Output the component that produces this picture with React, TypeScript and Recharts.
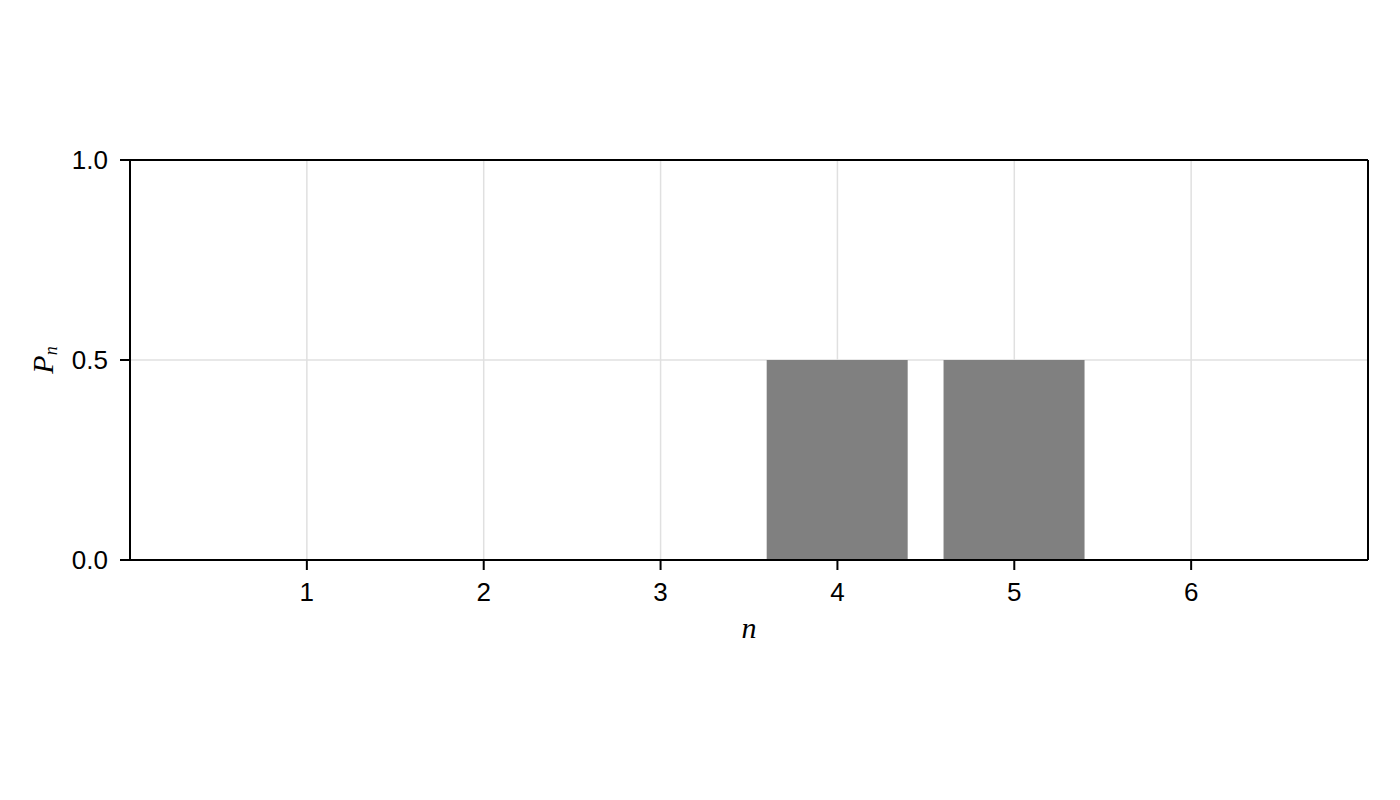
import { BarChart, Bar, XAxis, YAxis, CartesianGrid, ReferenceLine } from "recharts";

const nValues = [1, 2, 3, 4, 5, 6];
const probabilities = [0, 0, 0, 0.5, 0.5, 0];
const xTicks = [1, 2, 3, 4, 5, 6];
const yTicks = [0, 0.5, 1];

const data = nValues.map((n, i) => ({ n, p: probabilities[i] }));

const FONT = "'Liberation Sans', Arial, sans-serif";
const MATH = "'Liberation Serif', 'DejaVu Serif', serif";

const XLabel = ({ viewBox }: any) => {
  const { x, y, width } = viewBox;
  return (
    <text x={x + width / 2} y={y + 78} textAnchor="middle" fontFamily={MATH} fontStyle="italic" fontSize={30} fill="#000">
      n
    </text>
  );
};

const YLabel = ({ viewBox }: any) => {
  const { y, height } = viewBox;
  const cx = 45;
  const cy = y + height / 2;
  return (
    <text
      x={cx}
      y={cy}
      transform={`rotate(-90, ${cx}, ${cy})`}
      textAnchor="middle"
      fontFamily={MATH}
      fontStyle="italic"
      fontSize={30}
      fill="#000"
    >
      P
      <tspan fontSize={18} dy={4}>n</tspan>
    </text>
  );
};

export default function App() {
  return (
    <div style={{ width: 1384, height: 784, background: "#fff" }}>
      <BarChart
        width={1384}
        height={784}
        data={data}
        margin={{ top: 152, right: 24, bottom: 152, left: 42 }}
        barCategoryGap="10%"
      >
        <CartesianGrid stroke="#e0e0e0" strokeWidth={1.5} />
        <XAxis
          dataKey="n"
          type="number"
          domain={[0, 7]}
          ticks={xTicks}
          height={80}
          axisLine={{ stroke: "#000", strokeWidth: 2 }}
          tickLine={{ stroke: "#000", strokeWidth: 2 }}
          tickSize={10}
          tickMargin={13}
          fontSize={26}
          tick={{ fill: "#000", fontSize: 26, fontFamily: FONT }}
          label={<XLabel />}
        />
        <YAxis
          width={80}
          domain={[0, 1]}
          ticks={yTicks}
          tickFormatter={(v: number) => v.toFixed(1)}
          axisLine={{ stroke: "#000", strokeWidth: 2 }}
          tickLine={{ stroke: "#000", strokeWidth: 2 }}
          tickSize={10}
          tickMargin={12}
          fontSize={26}
          tick={{ fill: "#000", fontSize: 26, fontFamily: FONT }}
          label={<YLabel />}
        />
        <Bar dataKey="p" fill="#808080" isAnimationActive={false} />
        <ReferenceLine y={1} stroke="#000" strokeWidth={2} />
        <ReferenceLine x={7} stroke="#000" strokeWidth={2} />
      </BarChart>
    </div>
  );
}
